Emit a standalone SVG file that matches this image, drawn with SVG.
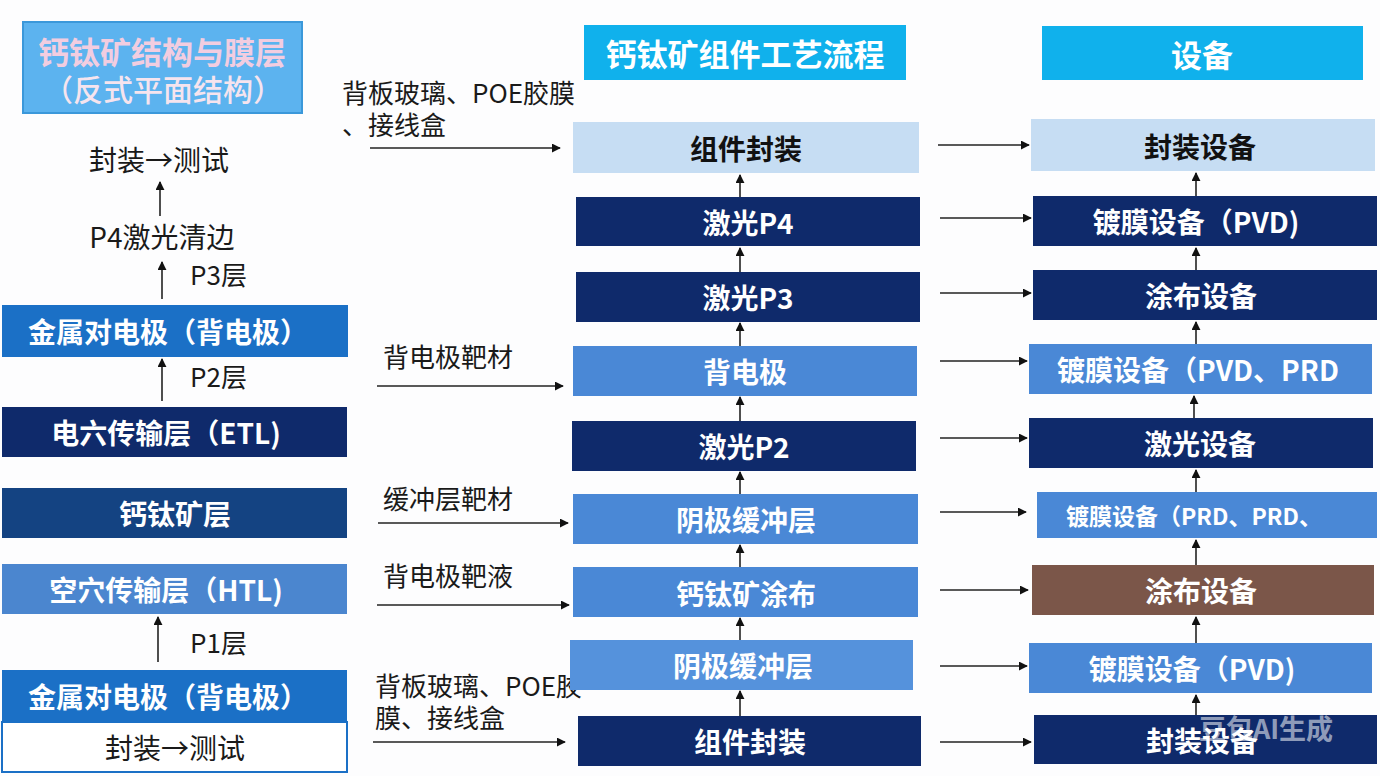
<svg xmlns="http://www.w3.org/2000/svg" width="1380" height="776" viewBox="0 0 1380 776">
<defs>
<marker id="ah" viewBox="0 0 10 10" refX="9" refY="5" markerWidth="9" markerHeight="9" markerUnits="userSpaceOnUse" orient="auto">
<path d="M0,0 L10,5 L0,10 z" fill="#111"/>
</marker>
<style>
.t{font-family:"Noto Sans CJK SC","Noto Sans",sans-serif;dominant-baseline:central;text-anchor:middle}
.b{font-weight:700;font-size:28px;fill:#fff}
.hb{font-weight:700;font-size:31px;fill:#fff}
.dk{fill:#0f2a6b}
.md{fill:#4a88d6}
.lt{fill:#c6ddf3}
.bl{fill:#1b70c6}
.hd{fill:#10b1ec}
.lbl{font-family:"Noto Sans CJK SC","Noto Sans",sans-serif;font-size:26px;fill:#1a1a1a}
.plain{font-size:28px;fill:#1a1a1a}
.c line{stroke:#222;stroke-width:1.6;marker-end:url(#ah)}
</style>
</defs>
<rect width="1380" height="776" fill="#fdfdfe"/>

<!-- Left column -->
<g id="left-title">
<rect x="23" y="22" width="279" height="91" fill="#5cb3ef" stroke="#3b98da" stroke-width="2"/>
<text class="t" x="162" y="50" style="font-size:31px;font-weight:700;fill:#f2cde0">钙钛矿结构与膜层</text>
<text class="t" x="163" y="88" style="font-size:30px;font-weight:500;fill:#f6e4ee">（反式平面结构）</text>
</g>
<g id="left-test-top"><text class="t plain" x="159" y="159">封装→测试</text></g>
<g id="left-p4"><text class="t plain" x="162" y="236">P4激光清边</text></g>
<g id="left-p3"><text class="lbl" x="190" y="285">P3层</text></g>
<g id="left-metal1"><rect x="2" y="305" width="346" height="52" class="bl"/><text class="t b" x="168" y="331">金属对电极（背电极）</text></g>
<g id="left-p2"><text class="lbl" x="190" y="387">P2层</text></g>
<g id="left-etl"><rect x="2" y="407" width="345" height="50" class="dk"/><text class="t b" x="166" y="432">电六传输层（ETL)</text></g>
<g id="left-pero"><rect x="2" y="488" width="345" height="50" fill="#144382"/><text class="t b" x="175" y="513">钙钛矿层</text></g>
<g id="left-htl"><rect x="2" y="564" width="345" height="50" fill="#4b86cf"/><text class="t b" x="166" y="589">空穴传输层（HTL)</text></g>
<g id="left-p1"><text class="lbl" x="190" y="653">P1层</text></g>
<g id="left-metal2"><rect x="2" y="670" width="345" height="52" class="bl"/><text class="t b" x="168" y="696">金属对电极（背电极）</text></g>
<g id="left-test-bottom"><rect x="2" y="722" width="345" height="50" fill="#fff" stroke="#1b70c6" stroke-width="2"/><text class="t plain" x="175" y="747">封装→测试</text></g>

<!-- Middle column -->
<g id="mid-header"><rect x="584" y="25" width="322" height="55" class="hd"/><text class="t hb" x="745" y="52">钙钛矿组件工艺流程</text></g>
<g id="in1"><text class="lbl" x="342" y="103">背板玻璃、POE胶膜</text><text class="lbl" x="342" y="135">、接线盒</text></g>
<g id="in2"><text class="lbl" x="383" y="367">背电极靶材</text></g>
<g id="in3"><text class="lbl" x="383" y="509">缓冲层靶材</text></g>
<g id="in4"><text class="lbl" x="383" y="586">背电极靶液</text></g>
<g id="in5"><text class="lbl" x="375" y="696">背板玻璃、POE胶</text><text class="lbl" x="375" y="728">膜、接线盒</text></g>

<g id="m1"><rect x="573" y="122" width="346" height="51" class="lt"/><text class="t b" x="746" y="148" style="fill:#111">组件封装</text></g>
<g id="m2"><rect x="576" y="197" width="344" height="49" class="dk"/><text class="t b" x="748" y="222">激光P4</text></g>
<g id="m3"><rect x="576" y="272" width="344" height="50" class="dk"/><text class="t b" x="748" y="297">激光P3</text></g>
<g id="m4"><rect x="573" y="346" width="344" height="50" class="md"/><text class="t b" x="745" y="371">背电极</text></g>
<g id="m5"><rect x="572" y="421" width="344" height="50" class="dk"/><text class="t b" x="744" y="446">激光P2</text></g>
<g id="m6"><rect x="573" y="494" width="345" height="50" class="md"/><text class="t b" x="746" y="519">阴极缓冲层</text></g>
<g id="m7"><rect x="573" y="567" width="345" height="50" class="md"/><text class="t b" x="746" y="593">钙钛矿涂布</text></g>
<g id="m8"><rect x="570" y="640" width="343" height="50" fill="#5592dc"/><text class="t b" x="743" y="665">阴极缓冲层</text></g>
<g id="m9"><rect x="578" y="716" width="343" height="50" class="dk"/><text class="t b" x="750" y="741">组件封装</text></g>

<!-- Right column -->
<g id="right-header"><rect x="1042" y="26" width="321" height="54" class="hd"/><text class="t hb" x="1202" y="53">设备</text></g>
<g id="r1"><rect x="1031" y="119" width="344" height="52" class="lt"/><text class="t b" x="1200" y="146" style="fill:#111">封装设备</text></g>
<g id="r2"><rect x="1033" y="196" width="344" height="50" class="dk"/><text class="t b" x="1196" y="221">镀膜设备（PVD)</text></g>
<g id="r3"><rect x="1033" y="270" width="344" height="50" class="dk"/><text class="t b" x="1201" y="295">涂布设备</text></g>
<g id="r4"><rect x="1029" y="344" width="343" height="50" class="md"/><text class="t b" x="1198" y="369">镀膜设备（PVD、PRD</text></g>
<g id="r5"><rect x="1029" y="418" width="344" height="50" class="dk"/><text class="t b" x="1200" y="443">激光设备</text></g>
<g id="r6"><rect x="1037" y="492" width="340" height="46" class="md"/><text class="t b" x="1066" y="515" style="font-size:23px;text-anchor:start">镀膜设备（PRD、PRD、</text></g>
<g id="r7"><rect x="1032" y="565" width="342" height="50" fill="#7b5649"/><text class="t b" x="1201" y="590">涂布设备</text></g>
<g id="r8"><rect x="1029" y="643" width="343" height="50" class="md"/><text class="t b" x="1192" y="668">镀膜设备（PVD)</text></g>
<g id="r9"><rect x="1034" y="715" width="343" height="49" class="dk"/><text class="t b" x="1202" y="740">封装设备</text></g>
<text class="t" x="1266" y="727" style="font-size:27px;font-weight:700;fill:#ffffff;fill-opacity:0.55">豆包AI生成</text>

<!-- Connectors -->
<g id="connectors" class="c">
<line x1="160" y1="216" x2="160" y2="182"/>
<line x1="162" y1="299" x2="162" y2="262"/>
<line x1="162" y1="401" x2="162" y2="359"/>
<line x1="158" y1="662" x2="158" y2="617"/>

<line x1="370" y1="148" x2="560" y2="148"/>
<line x1="377" y1="386" x2="563" y2="386"/>
<line x1="378" y1="523" x2="568" y2="523"/>
<line x1="377" y1="605" x2="569" y2="605"/>
<line x1="373" y1="742" x2="565" y2="742"/>

<line x1="740" y1="197" x2="740" y2="175"/>
<line x1="740" y1="272" x2="740" y2="248"/>
<line x1="740" y1="346" x2="740" y2="323"/>
<line x1="740" y1="421" x2="740" y2="397"/>
<line x1="740" y1="494" x2="740" y2="472"/>
<line x1="740" y1="567" x2="740" y2="545"/>
<line x1="740" y1="640" x2="740" y2="618"/>
<line x1="740" y1="716" x2="740" y2="691"/>

<line x1="938" y1="145" x2="1029" y2="145"/>
<line x1="940" y1="218" x2="1031" y2="218"/>
<line x1="940" y1="293" x2="1031" y2="293"/>
<line x1="940" y1="361" x2="1027" y2="361"/>
<line x1="940" y1="438" x2="1027" y2="438"/>
<line x1="940" y1="512" x2="1026" y2="512"/>
<line x1="940" y1="590" x2="1028" y2="590"/>
<line x1="940" y1="666" x2="1027" y2="666"/>
<line x1="940" y1="742" x2="1031" y2="742"/>

<line x1="1196" y1="196" x2="1196" y2="173"/>
<line x1="1196" y1="270" x2="1196" y2="248"/>
<line x1="1196" y1="344" x2="1196" y2="322"/>
<line x1="1194" y1="418" x2="1194" y2="396"/>
<line x1="1196" y1="492" x2="1196" y2="470"/>
<line x1="1196" y1="565" x2="1196" y2="540"/>
<line x1="1196" y1="643" x2="1196" y2="617"/>
<line x1="1196" y1="715" x2="1196" y2="695"/>
</g>
</svg>
